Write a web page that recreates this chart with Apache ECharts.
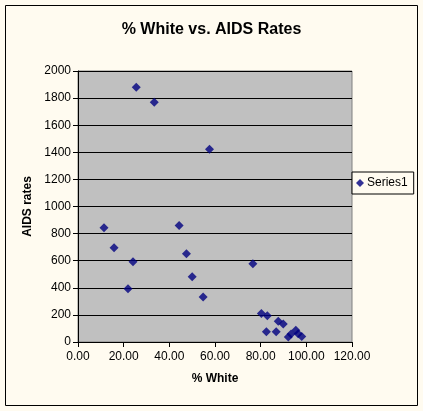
<!DOCTYPE html>
<html><head><meta charset="utf-8">
<script src="https://cdn.jsdelivr.net/npm/echarts@6/dist/echarts.min.js"></script>
<style>html,body{margin:0;padding:0;background:#FFFBF0;}#c{width:423px;height:411px;}</style>
</head><body><div id="c"></div>
<script>
const pctWhite = [25.5, 33.4, 57.6, 11.4, 15.8, 24.1, 21.9, 44.3, 47.5, 50.0, 54.8, 76.6, 80.3, 82.9, 82.5, 86.8, 87.7, 89.9, 92.1, 93.3, 95.4, 96.4, 98.0];
const aidsRates = [1880, 1769, 1422, 844, 696, 593, 393, 859, 652, 481, 333, 578, 210, 193, 76, 76, 153, 133, 37, 59, 86, 61, 41];
const xTicks = [0, 20, 40, 60, 80, 100, 120];
const yTicks = [0, 200, 400, 600, 800, 1000, 1200, 1400, 1600, 1800, 2000];
const points = pctWhite.map((x, i) => [x, aidsRates[i]]);
const chart = echarts.init(document.getElementById('c'));
chart.setOption({
  animation: false,
  backgroundColor: '#FFFBF0',
  graphic: [{type: 'rect', shape: {x: 5.5, y: 5.5, width: 412, height: 400}, style: {fill: 'none', stroke: '#000', lineWidth: 1}, z: 100}],
  title: {text: '% White vs. AIDS Rates', left: 'center', top: 17, textStyle: {fontFamily: 'Liberation Sans, Arial', fontSize: 16, fontWeight: 'bold', color: '#000'}},
  legend: {
    data: ['Series1'], orient: 'vertical', left: 352, top: 172, itemWidth: 8, itemHeight: 8, itemGap: 0,
    padding: [5, 6, 5, 4], borderColor: '#000', borderWidth: 1, backgroundColor: '#FFFBF0',
    textStyle: {fontFamily: 'Liberation Sans, Arial', fontSize: 12, color: '#000', padding: [0, 0, 0, -2]}
  },
  grid: {left: 78, right: 71, top: 71, bottom: 69, show: true, backgroundColor: '#C0C0C0', borderColor: '#808080', borderWidth: 1},
  xAxis: {
    type: 'value', min: xTicks[0], max: xTicks[xTicks.length - 1], interval: 20,
    name: '% White', nameLocation: 'middle', nameGap: 31,
    nameTextStyle: {fontFamily: 'Liberation Sans, Arial', fontSize: 12, fontWeight: 'bold', color: '#000'},
    axisLine: {lineStyle: {color: '#000'}}, axisTick: {show: true, length: 5, lineStyle: {color: '#000'}},
    axisLabel: {formatter: v => v.toFixed(2), fontFamily: 'Liberation Sans, Arial', fontSize: 12, color: '#000', margin: 9},
    splitLine: {show: false}
  },
  yAxis: {
    type: 'value', min: yTicks[0], max: yTicks[yTicks.length - 1], interval: 200,
    name: 'AIDS rates', nameLocation: 'middle', nameGap: 43,
    nameTextStyle: {fontFamily: 'Liberation Sans, Arial', fontSize: 12, fontWeight: 'bold', color: '#000'},
    axisLine: {show: true, lineStyle: {color: '#000'}}, axisTick: {show: true, length: 5, lineStyle: {color: '#000'}},
    axisLabel: {formatter: v => String(v), fontFamily: 'Liberation Sans, Arial', fontSize: 12, color: '#000', margin: 7},
    splitLine: {show: true, lineStyle: {color: '#000', width: 1}}
  },
  series: [{
    name: 'Series1', type: 'scatter', data: points, symbol: 'diamond', symbolSize: 9,
    itemStyle: {color: '#000080'}
  }]
});
</script></body></html>
